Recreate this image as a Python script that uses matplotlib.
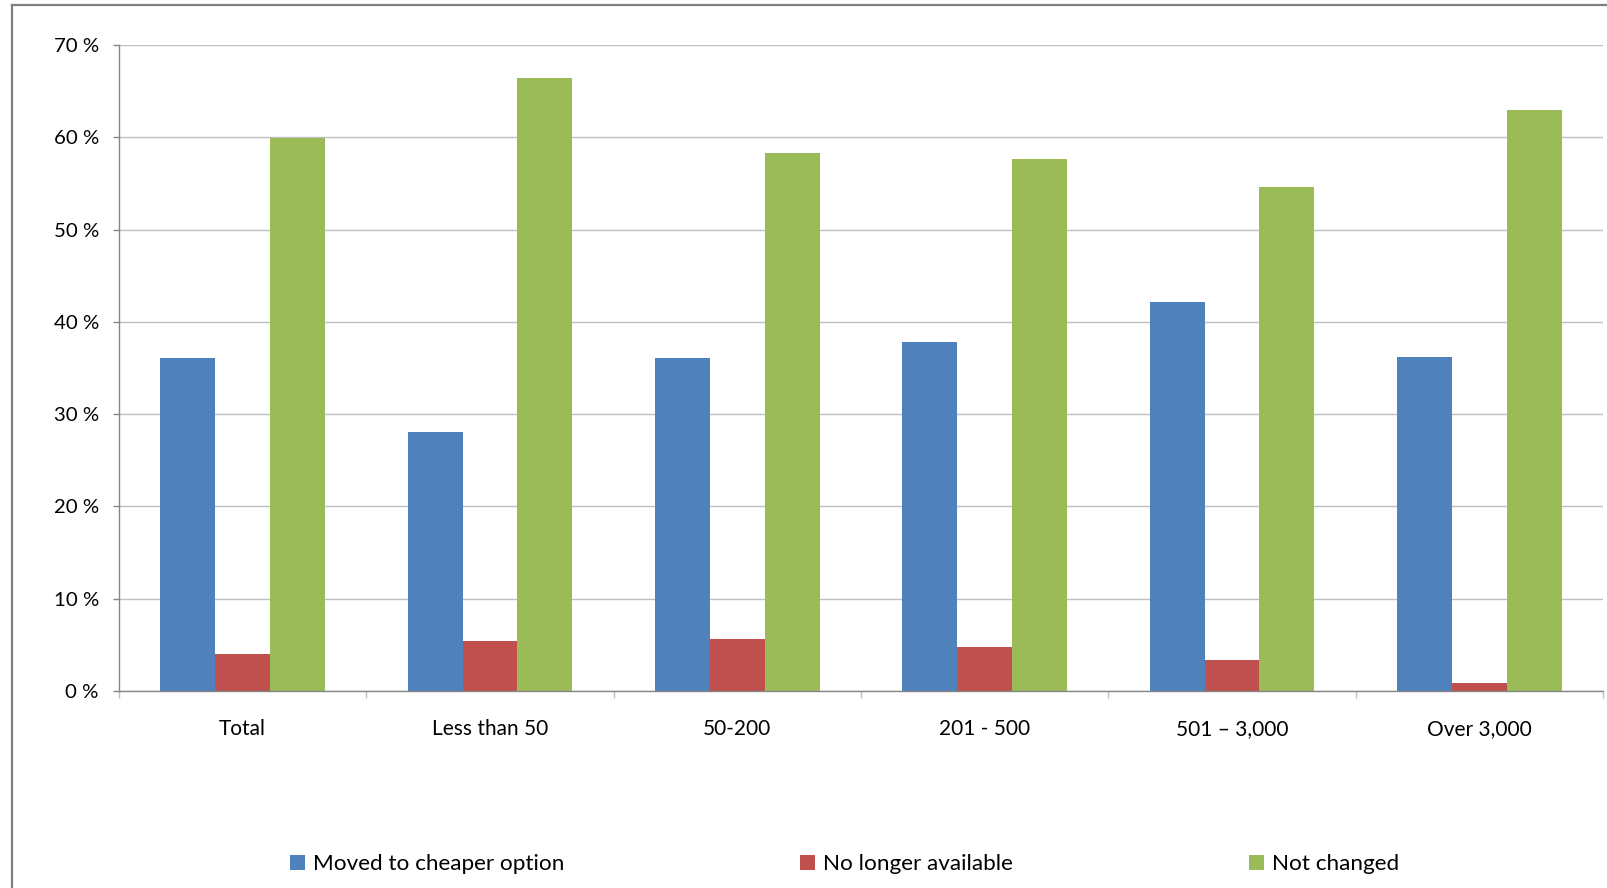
import matplotlib
matplotlib.use("Agg")
import matplotlib.pyplot as plt
import numpy as np
from matplotlib.lines import Line2D
from matplotlib.patches import Patch

plt.rcParams['font.family'] = ['Lato', 'DejaVu Sans']

categories = ["Total", "Less than 50", "50-200", "201 - 500", "501 \u2013 3,000", "Over 3,000"]
series_names = ["Moved to cheaper option", "No longer available", "Not changed"]
moved = [36.1, 28.1, 36.1, 37.8, 42.1, 36.2]
no_longer = [4.0, 5.4, 5.6, 4.8, 3.4, 0.9]
not_changed = [59.9, 66.4, 58.3, 57.6, 54.6, 63.0]
y_ticks = [0, 10, 20, 30, 40, 50, 60, 70]
y_tick_labels = ["0 %", "10 %", "20 %", "30 %", "40 %", "50 %", "60 %", "70 %"]

colors = ["#4F81BD", "#C0504D", "#9BBB59"]

W, H = 1607, 888
fig = plt.figure(figsize=(W / 100, H / 100), dpi=100)
ax = fig.add_axes([119 / W, 1 - 691 / H, (1603 - 119) / W, (691 - 45) / H])

x = np.arange(len(categories))
bw = 0.222
for i, (vals, c) in enumerate(zip([moved, no_longer, not_changed], colors)):
    ax.bar(x + (i - 1) * bw, vals, width=bw, color=c, edgecolor='none', zorder=3)

ax.set_xlim(-0.5, len(categories) - 0.5)
ax.set_ylim(0, 70)
ax.set_yticks(y_ticks)
ax.set_yticklabels(y_tick_labels, fontsize=14.7)
ax.yaxis.grid(True, color="#BFBFBF", linewidth=1.0, zorder=0)
ax.set_axisbelow(True)
ax.tick_params(axis='y', length=4.5, width=1, color="#868686", pad=10, labelcolor="#000000")

ax.set_xticks(x)
ax.set_xticklabels(categories, fontsize=15)
ax.set_xticks(np.arange(-0.5, len(categories)), minor=True)
ax.tick_params(axis='x', which='major', length=0, pad=20.5)
ax.tick_params(axis='x', which='minor', length=5, width=1, color="#BFBFBF")

for s in ['top', 'right']:
    ax.spines[s].set_visible(False)
for s in ['left', 'bottom']:
    ax.spines[s].set_color("#868686")
    ax.spines[s].set_linewidth(1.0)
ax.spines['bottom'].set_zorder(4)

handles = [Patch(facecolor=c, edgecolor='none') for c in colors]
leg = fig.legend(handles, series_names, loc='center', bbox_to_anchor=(844.5 / W, 1 - 864 / H),
                 ncol=3, frameon=False, fontsize=16.2, handlelength=0.65, handleheight=0.65,
                 handletextpad=0.35, columnspacing=10.5)

# outer chart border (top and left visible)
fig.add_artist(Line2D([11.5 / W, 11.5 / W], [0, 1 - 5.5 / H], transform=fig.transFigure,
                      color="#808080", linewidth=1.6))
fig.add_artist(Line2D([11.5 / W, 1], [1 - 5.5 / H, 1 - 5.5 / H], transform=fig.transFigure,
                      color="#808080", linewidth=1.6))

fig.savefig("out.png", dpi=100, facecolor="white")
